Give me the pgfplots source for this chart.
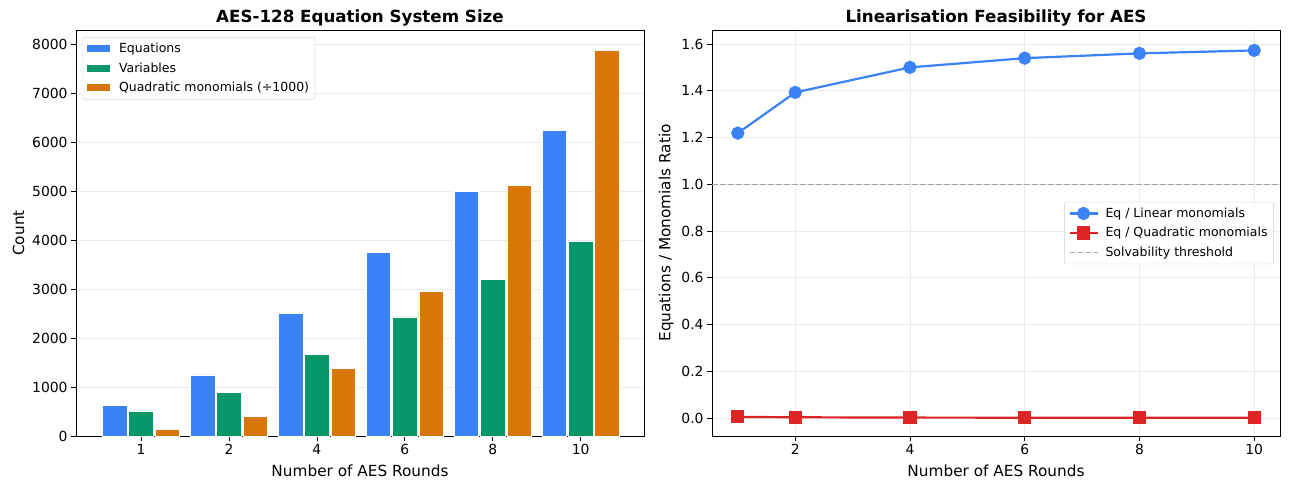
\documentclass[border=0pt]{standalone}
\usepackage{fontspec}
\setmainfont{DejaVu Sans}
\usepackage{pgfplots}
\pgfplotsset{compat=1.18}
\definecolor{cblue}{HTML}{3B82F6}
\definecolor{cgreen}{HTML}{059669}
\definecolor{corange}{HTML}{D97706}
\definecolor{cred}{HTML}{DC2626}
\definecolor{gridc}{HTML}{EBEBEB}
\pgfplotsset{
  common/.style={
    scale only axis, anchor=south west,
    width=568pt, height=406pt,
    axis line style={line width=0.8pt, black},
    tick align=outside,
    xtick pos=bottom, ytick pos=left,
    major tick length=4.9pt,
    tick style={line width=0.8pt, black},
    every tick label/.append style={font=\fontsize{13.9}{16}\selectfont},
    /pgf/number format/assume math mode=true,
    /pgf/number format/1000 sep={},
    title style={font=\fontsize{16.7}{19}\selectfont\bfseries, yshift=-6pt},
    xlabel style={font=\fontsize{15.3}{18}\selectfont, yshift=-3pt},
    ylabel style={font=\fontsize{15.3}{18}\selectfont, yshift=1pt},
    grid style={gridc, line width=0.8pt},
    legend cell align=left,
  },
  barleg/.style={legend image code/.code={\fill[##1, draw=none, sharp corners, fill opacity=1] (0pt,-3.5pt) rectangle (23pt,3.5pt); \path[draw=none, fill=none] (0pt,0pt) -- (30pt,0pt);}},
  lineleg/.style={legend image code/.code={
     \draw[##1, sharp corners, fill opacity=1, draw opacity=1, mark repeat=2, mark phase=2] plot coordinates {(0pt,0pt) (14pt,0pt) (28pt,0pt)}; \path[draw=none, fill=none] (0pt,0pt) -- (34pt,0pt);}},
}
\begin{document}
\begin{tikzpicture}
\useasboundingbox (0,0) rectangle (1289pt,490pt);
\begin{axis}[common,
  at={(76pt,54pt)},
  xmin=-0.74, xmax=5.72, ymin=0, ymax=8286,
  xtick={0,1,2,3,4,5}, xticklabels={1,2,4,6,8,10},
  ytick={0,1000,2000,3000,4000,5000,6000,7000,8000},
  scaled y ticks=false,
  ymajorgrids,
  title={AES-128 Equation System Size},
  xlabel={Number of AES Rounds},
  ylabel={Count},
  legend style={at={(0.012,0.983)}, anchor=north west, font=\fontsize{12.5}{14}\selectfont,
    draw=black!20, rounded corners=2pt, fill=white, fill opacity=0.8, text opacity=1,
    row sep=4.5pt, inner xsep=4pt, inner ysep=4pt},
]
\addplot[ybar, bar width=0.28, bar shift=-0.3, fill=cblue, draw=white, line width=0.6pt, barleg] coordinates
 {(0,624) (1,1248) (2,2496) (3,3744) (4,4992) (5,6240)};
\addplot[ybar, bar width=0.28, bar shift=0, fill=cgreen, draw=white, line width=0.6pt, barleg] coordinates
 {(0,512) (1,896) (2,1664) (3,2432) (4,3200) (5,3968)};
\addplot[ybar, bar width=0.28, bar shift=0.3, fill=corange, draw=white, line width=0.6pt, barleg] coordinates
 {(0,130.8) (1,401.0) (2,1383.6) (3,2956.1) (4,5118.4) (5,7870.5)};
\legend{Equations, Variables, Quadratic monomials (÷1000)}
\end{axis}

\begin{axis}[common,
  at={(712pt,54pt)},
  xmin=0.55, xmax=10.45, ymin=-0.077, ymax=1.66,
  xtick={2,4,6,8,10},
  ytick={0,0.2,0.4,0.6,0.8,1.0,1.2,1.4,1.6},
  yticklabel style={/pgf/number format/.cd, fixed, fixed zerofill, precision=1},
  xmajorgrids, ymajorgrids,
  title={Linearisation Feasibility for AES},
  xlabel={Number of AES Rounds},
  ylabel={Equations / Monomials Ratio},
  legend style={at={(0.989,0.5)}, anchor=east, font=\fontsize{12.5}{14}\selectfont,
    draw=black!20, rounded corners=2pt, fill=white, fill opacity=0.8, text opacity=1,
    row sep=4.5pt, inner xsep=4pt, inner ysep=4pt},
]
\addplot[cblue, line width=2.2pt, mark=*, mark size=5.5pt, mark options={solid, fill=cblue, draw=cblue}, lineleg] coordinates
 {(1,1.2188) (2,1.3929) (4,1.5000) (6,1.5395) (8,1.5600) (10,1.5726)};
\addplot[cred, line width=2.2pt, mark=square*, mark size=5.5pt, mark options={solid, fill=cred, draw=cred}, lineleg] coordinates
 {(1,0.0048) (2,0.0031) (4,0.0018) (6,0.0013) (8,0.00098) (10,0.00079)};
\addplot[gray!70, line width=1.5pt, dash pattern=on 5.5pt off 2.5pt, lineleg] coordinates {(0.55,1) (10.45,1)};
\legend{Eq / Linear monomials, Eq / Quadratic monomials, Solvability threshold}
\end{axis}
\end{tikzpicture}
\end{document}
